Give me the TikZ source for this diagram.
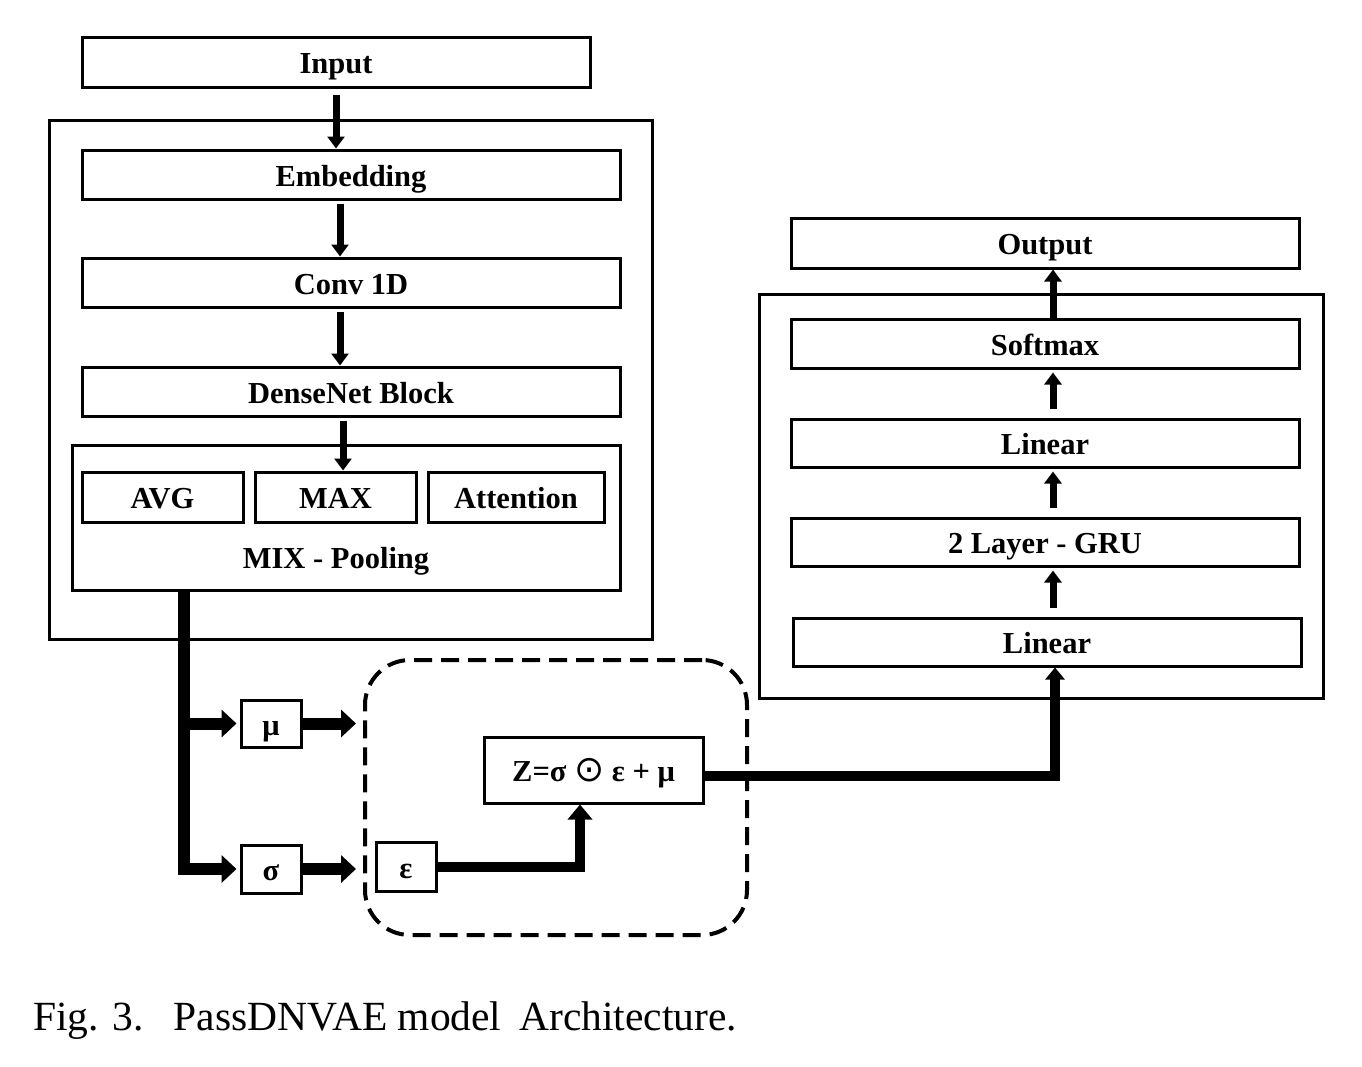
\documentclass[tikz,border=0pt]{standalone}
\usepackage{fontspec}
\setmainfont{Liberation Serif}
\newfontfamily\symfont{DejaVu Sans}
\usetikzlibrary{arrows.meta}
\begin{document}
\begin{tikzpicture}[x=1pt,y=-1pt,
  box/.style={draw, line width=3pt, inner sep=0pt, text height=23pt, text depth=0pt,
              font=\fontsize{30.5}{32}\selectfont\bfseries},
  frame/.style={draw, line width=3pt, inner sep=0pt},
  lbl/.style={inner sep=0pt, text height=23pt, text depth=0pt, font=\fontsize{30.5}{32}\selectfont\bfseries},
  smallarr/.style={line width=7pt, -{Triangle[length=12pt,width=17pt]}},
  bigarr/.style={line width=12pt, -{Triangle[length=15pt,width=27pt]}},
  midarr/.style={line width=10pt, -{Triangle[length=15pt,width=24pt]}},
  zarr/.style={line width=10pt, -{Triangle[length=12pt,width=19pt]}}
]
\useasboundingbox (0,0) rectangle (1362,1066);

% left encoder
\node[box, minimum width=508pt, minimum height=50pt] (input) at (336,62) {Input};
\node[frame, minimum width=603pt, minimum height=519pt] (outerL) at (350.5,379.5) {};
\node[box, minimum width=538pt, minimum height=49pt] (emb) at (351,174.5) {Embedding};
\node[box, minimum width=538pt, minimum height=49pt] (conv) at (351,282.5) {Conv 1D};
\node[box, minimum width=538pt, minimum height=49pt] (dense) at (351,391.5) {DenseNet Block};
\node[frame, minimum width=548pt, minimum height=145pt] (mixbox) at (346,517.5) {};
\node[box, minimum width=161pt, minimum height=50pt] (avg) at (162.5,497) {AVG};
\node[box, minimum width=161pt, minimum height=50pt] (max) at (335.5,497) {MAX};
\node[box, minimum width=176pt, minimum height=50pt] (att) at (516,497) {Attention};
\node[lbl] (mixlbl) at (336,557) {MIX - Pooling};

\draw[smallarr, shorten <=6pt] (input.south) -- (emb.north -| input.south);
\draw[smallarr, shorten <=3pt] (emb.south -| 340,0) -- (conv.north -| 340,0);
\draw[smallarr, shorten <=3pt] (conv.south -| 340,0) -- (dense.north -| 340,0);
\draw[smallarr, shorten <=3pt] (dense.south -| 343,0) -- (max.north -| 343,0);

% latent
\node[box, minimum width=60pt, minimum height=47pt] (mu) at (271,723.5) {μ};
\node[box, minimum width=60pt, minimum height=48pt] (sigma) at (271,869) {σ};
\node[draw, line width=4pt, dash pattern=on 18pt off 9pt, rounded corners=45pt,
      minimum width=382pt, minimum height=275pt, inner sep=0pt] (dashbox) at (556,797.5) {};
\node[box, minimum width=219pt, minimum height=66pt] (z) at (593.5,770)
  {Z=σ {\mdseries\symfont\fontsize{36}{38}\selectfont ⊙} ε + μ};
\node[box, minimum width=60pt, minimum height=49pt] (eps) at (406,866.5) {ε};

\coordinate (trunkbot) at (184,869);
\draw[bigarr, shorten >=3pt] (mixbox.south -| trunkbot) -- (trunkbot) -- (sigma.west);
\draw[bigarr, shorten >=3pt] (mu.west -| trunkbot) -- (mu.west);
\draw[bigarr, shorten >=7pt] (mu.east) -- (mu.east -| dashbox.west);
\draw[bigarr, shorten >=7pt] (sigma.east) -- (sigma.east -| dashbox.west);
\draw[midarr] (eps.east) -- (eps.east -| 580,0) -- (z.south -| 580,0);

% right decoder
\node[frame, minimum width=564pt, minimum height=404pt] (outerR) at (1041,496) {};
\node[box, minimum width=508pt, minimum height=50pt] (output) at (1045,243) {Output};
\node[box, minimum width=508pt, minimum height=49pt] (softmax) at (1045,343.5) {Softmax};
\node[box, minimum width=508pt, minimum height=48pt] (lin2) at (1045,443) {Linear};
\node[box, minimum width=508pt, minimum height=48pt] (gru) at (1045,542) {2 Layer - GRU};
\node[box, minimum width=508pt, minimum height=48pt] (lin1) at (1047,642) {Linear};

\draw[smallarr] (softmax.north -| 1053,0) -- (output.south -| 1053,0);
\draw[smallarr, shorten <=9pt, shorten >=3pt] (lin2.north -| 1053,0) -- (softmax.south -| 1053,0);
\draw[smallarr, shorten <=9pt, shorten >=3pt] (gru.north -| 1053,0) -- (lin2.south -| 1053,0);
\draw[smallarr, shorten <=9pt, shorten >=3pt] (lin1.north -| 1053,0) -- (gru.south -| 1053,0);

\coordinate (zout) at ([yshift=-6pt]z.east);
\draw[zarr] (zout) -- (zout -| 1055,0) -- (lin1.south -| 1055,0);

% caption
\node[anchor=base west, inner sep=0pt, font=\fontsize{41.5}{45}\selectfont] (cap) at (33,1030)
  {Fig. 3.\hspace{0.72em}PassDNVAE model\hspace{0.43em}Architecture.};
\end{tikzpicture}
\end{document}
